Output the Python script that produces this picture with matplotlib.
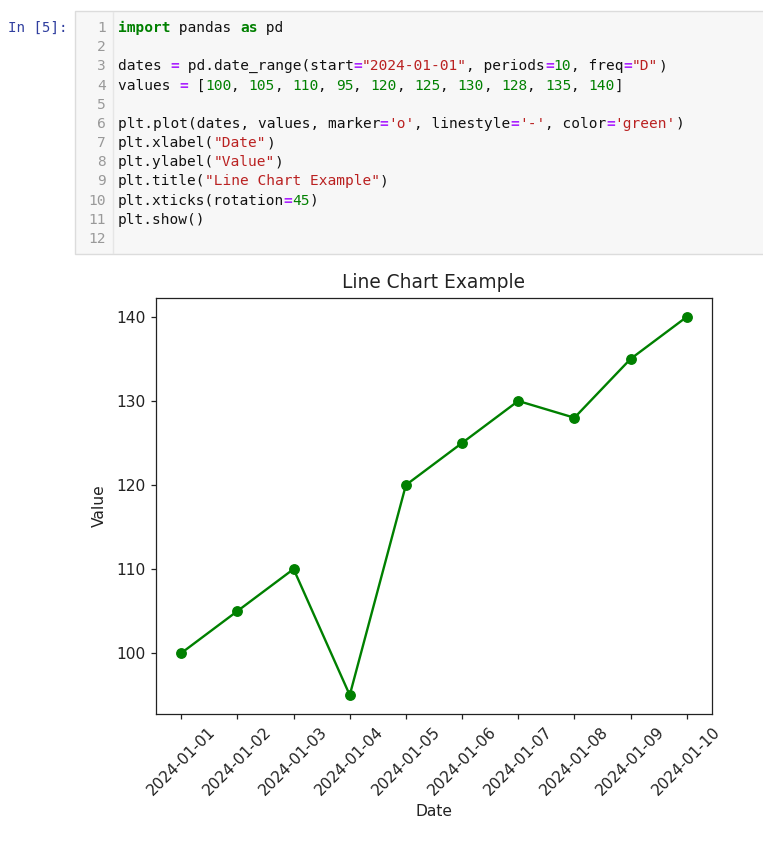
import matplotlib
matplotlib.use("Agg")
import matplotlib.pyplot as plt
import matplotlib.dates as mdates
from matplotlib.patches import Rectangle
from matplotlib.lines import Line2D
import pandas as pd

# ---- data ----
dates = pd.date_range(start="2024-01-01", periods=10, freq="D")
values = [100, 105, 110, 95, 120, 125, 130, 128, 135, 140]
title = "Line Chart Example"
xlabel = "Date"
ylabel = "Value"
prompt = "In [5]:"

# code cell tokens: (text, kind)
code_lines = [
    [("import", "kw"), (" pandas ", "n"), ("as", "kw"), (" pd", "n")],
    [],
    [("dates ", "n"), ("=", "op"), (" pd.date_range(start", "n"), ("=", "op"),
     ('"2024-01-01"', "s"), (", periods", "n"), ("=", "op"), ("10", "num"),
     (", freq", "n"), ("=", "op"), ('"D"', "s"), (")", "n")],
    [("values ", "n"), ("=", "op"), (" [", "n"), ("100", "num"), (", ", "n"),
     ("105", "num"), (", ", "n"), ("110", "num"), (", ", "n"), ("95", "num"),
     (", ", "n"), ("120", "num"), (", ", "n"), ("125", "num"), (", ", "n"),
     ("130", "num"), (", ", "n"), ("128", "num"), (", ", "n"), ("135", "num"),
     (", ", "n"), ("140", "num"), ("]", "n")],
    [],
    [("plt.plot(dates, values, marker", "n"), ("=", "op"), ("'o'", "s"),
     (", linestyle", "n"), ("=", "op"), ("'-'", "s"), (", color", "n"),
     ("=", "op"), ("'green'", "s"), (")", "n")],
    [("plt.xlabel(", "n"), ('"Date"', "s"), (")", "n")],
    [("plt.ylabel(", "n"), ('"Value"', "s"), (")", "n")],
    [("plt.title(", "n"), ('"Line Chart Example"', "s"), (")", "n")],
    [("plt.xticks(rotation", "n"), ("=", "op"), ("45", "num"), (")", "n")],
    [("plt.show()", "n")],
    [],
]

styles = {
    "kw": dict(color="#008000", fontweight="bold"),
    "n": dict(color="#111111"),
    "op": dict(color="#aa22ff", fontweight="bold"),
    "s": dict(color="#ba2121"),
    "num": dict(color="#008000"),
}

W, H = 763, 844
fig = plt.figure(figsize=(W / 100, H / 100), dpi=100)
fig.patch.set_facecolor("white")


def fx(px):
    return px / W


def fy(py):
    return 1 - py / H


MONO = "DejaVu Sans Mono"

# code cell background
fig.patches.append(Rectangle((fx(75), fy(254)), fx(763) - fx(75) + 0.01,
                             fy(11) - fy(254), transform=fig.transFigure,
                             facecolor="#f7f7f7", edgecolor="#dcdcdc",
                             linewidth=1.0))
fig.lines.append(Line2D([fx(112.5), fx(112.5)], [fy(12), fy(253)],
                        transform=fig.transFigure, color="#e6e6e6", lw=1.0))

fig.text(fx(8), fy(28), prompt, family=MONO, fontsize=10.2,
         color="#303f9f", va="center", ha="left")

mono_pt = 10.42
char_px = 0.602 * mono_pt * 100 / 72
x0 = 118
line_y0 = 28
pitch = 19.18
for i, toks in enumerate(code_lines):
    y = line_y0 + i * pitch
    fig.text(fx(106), fy(y), str(i + 1), family=MONO,
             fontsize=mono_pt, color="#999999", ha="right", va="center")
    col = 0
    for txt, kind in toks:
        fig.text(fx(x0 + col * char_px), fy(y), txt, family=MONO,
                 fontsize=mono_pt, ha="left", va="center", **styles[kind])
        col += len(txt)

# ---- chart ----
ax = fig.add_axes([fx(156), fy(714), fx(712) - fx(156), fy(298) - fy(714)])
ax.plot(dates, values, marker="o", linestyle="-", color="green",
        linewidth=1.7, markersize=6.8)
ax.set_xticks(dates)
ax.xaxis.set_major_formatter(mdates.DateFormatter("%Y-%m-%d"))
ax.set_yticks([100, 110, 120, 130, 140])
ax.tick_params(axis="both", labelsize=11.2, length=3.9, width=0.9,
               colors="#222222")
for lab in ax.get_xticklabels():
    lab.set_rotation(45)
    lab.set_ha("center")
for sp in ax.spines.values():
    sp.set_linewidth(0.9)
    sp.set_color("#222222")
ax.set_title(title, fontsize=13.4, pad=7, color="#222222")
ax.set_xlabel(xlabel, fontsize=11.2, color="#222222", labelpad=4)
ax.set_ylabel(ylabel, fontsize=11.2, color="#222222", labelpad=7)

fig.savefig("out.png", dpi=100)
